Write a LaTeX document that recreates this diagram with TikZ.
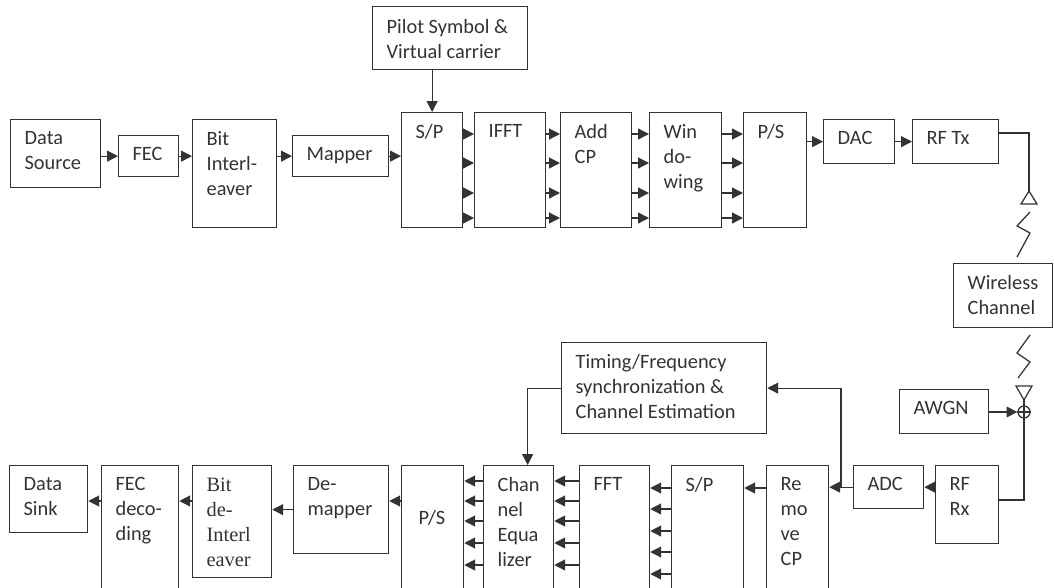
\documentclass[tikz,border=0pt]{standalone}
\usepackage{fontspec}
\setmainfont{Carlito}
\newfontfamily\timesfont{Liberation Serif}
\usetikzlibrary{arrows.meta,calc}
\newlength{\px}
\setlength{\px}{0.025cm}
% box text: top-left aligned, optional top gap
\newcommand{\bx}[4][12\px]{\parbox[c][#3][t]{#2}{\raggedright\leftskip=14\px\vspace*{#1}#4}}

\begin{document}
\begin{tikzpicture}[x=0.025cm, y=-0.025cm, >={Triangle[length=0.27cm,width=0.27cm]},
  font=\fontsize{14.5}{17.8}\selectfont, text=black!80,
  line width=0.9pt, draw=black!80,
  blk/.style={draw=black!80, line width=0.9pt, inner sep=0pt, anchor=north west}]
  \useasboundingbox (0,0) rectangle (1054,587);
  % transmitter
  \node[blk] (src)  at (10,119)  {\bx{90\px}{68\px}{Data\\Source}};
  \node[blk] (fec)  at (118,135) {\bx{60\px}{41\px}{FEC}};
  \node[blk] (bil)  at (192,119) {\bx{84\px}{108\px}{Bit\\Interl-\\eaver}};
  \node[blk] (map)  at (292,135) {\bx{96\px}{41\px}{Mapper}};
  \node[blk] (pil)  at (372,6)   {\bx[13\px]{155\px}{63\px}{Pilot Symbol \&\\Virtual carrier}};
  \node[blk] (sp)   at (401,112) {\bx{61\px}{115\px}{S/P}};
  \node[blk] (ifft) at (474,112) {\bx{71\px}{115\px}{IFFT}};
  \node[blk] (acp)  at (560,112) {\bx{71\px}{115\px}{Add\\CP}};
  \node[blk] (win)  at (649,112) {\bx{72\px}{115\px}{Win\\do-\\wing}};
  \node[blk] (ps)   at (743,112) {\bx{63\px}{115\px}{P/S}};
  \node[blk] (dac)  at (823,119) {\bx{71\px}{44\px}{DAC}};
  \node[blk] (rftx) at (912,119) {\bx{86\px}{44\px}{RF Tx}};
  % channel
  \node[blk] (wch)  at (953,263) {\bx{99\px}{64\px}{Wireless\\Channel}};
  \node[blk] (awgn) at (899,389) {\bx{89\px}{44\px}{AWGN}};
  \node[draw=black!80, circle, inner sep=0pt, minimum size=12\px] (sum) at (1024,412) {};
  % receiver
  \node[blk] (rfrx) at (935,465) {\bx{63\px}{78\px}{RF\\Rx}};
  \node[blk] (adc)  at (853,465) {\bx{70\px}{43\px}{ADC}};
  \node[blk] (tim)  at (561,342) {\bx{205\px}{91\px}{Timing/Frequency\\synchronization \&\\Channel Estimation}};
  \node[blk] (rcp)  at (766,465) {\bx{62\px}{125\px}{Re\\mo\\ve\\CP}};
  \node[blk] (sp2)  at (671,465) {\bx{72\px}{125\px}{S/P}};
  \node[blk] (fft)  at (579,465) {\bx{70\px}{125\px}{FFT}};
  \node[blk] (ceq)  at (483,465) {\bx{70\px}{125\px}{Chan\\nel\\Equa\\lizer}};
  \node[blk] (ps2)  at (401,465) {\bx[45\px]{62\px}{125\px}{\hspace*{3\px}P/S}};
  \node[blk] (dmap) at (293,465) {\bx{95\px}{88\px}{De-\\mapper}};
  \node[blk] (bdi)  at (192,465) {\bx{79\px}{112\px}{\timesfont Bit\\de-\\Interl\\eaver}};
  \node[blk] (fdec) at (101,465) {\bx{77\px}{125\px}{FEC\\deco-\\ding}};
  \node[blk] (sink) at (9,465)   {\bx{78\px}{67\px}{Data\\Sink}};

  % tx chain
  \draw[->] (src.east |- fec.west) -- (fec.west);
  \draw[->] (fec) -- (fec -| bil.west);
  \draw[->] (bil.east |- map.west) -- (map.west);
  \draw[->] (map.east) -- (map.east -| sp.west);
  \draw[->] (pil.south -| sp.north) -- (sp.north);
  \foreach \a/\b in {sp/ifft, ifft/acp, acp/win, win/ps}
    \foreach \y in {134,163,193,218}
      \draw[->] (\a.east |- 0,\y) -- (\b.west |- 0,\y);
  \draw[->] (ps.east |- dac.west) -- (dac.west);
  \draw[->] (dac) -- (rftx);

  % antennas and radio link
  \coordinate (txant) at (1029,191);
  \coordinate (rxant) at (1024,400);
  \draw (rftx.east |- 0,133) -| (txant);
  \draw (txant) -- ++(-8,13) -- ++(16,0) -- cycle;
  \draw (1030,212) -- (1017,226) -- (1030,233) -- (1017,257);
  \draw (1030,335) -- (1017,353) -- (1030,362) -- (1018,378);
  \draw (rxant) -- ++(-8,-14) -- ++(16,0) -- cycle;
  \draw (rxant) -- (sum.north) -- (sum.south);
  \draw (sum.west) -- (sum.east);
  \draw[->] (awgn.east |- sum.west) -- (sum.west);
  \draw (sum.south) |- (rfrx.east |- 0,500);

  % rx chain
  \draw[->] (rfrx.west |- adc.east) -- (adc.east);
  \draw[->] (adc.west) -- (adc.west -| rcp.east);
  \coordinate (br) at (adc.west -| 841,0);
  \draw[->] (br) |- (tim.east);
  \draw[->] (tim.west) -| ($(ceq.north)+(9,0)$);
  \draw[->] (rcp.west |- 0,488) -- (sp2.east |- 0,488);
  \foreach \y in {488,509,531,552,574}
    \draw[->] (sp2.west |- 0,\y) -- (fft.east |- 0,\y);
  \foreach \a/\b in {fft/ceq, ceq/ps2}
    \foreach \y in {481,501,521,543,565}
      \draw[->] (\a.west |- 0,\y) -- (\b.east |- 0,\y);
  \draw[->] (ps2.west |- 0,501) -- (dmap.east |- 0,501);
  \draw[->] (dmap.west) -- (dmap.west -| bdi.east);
  \draw[->] (bdi.west |- 0,501) -- (fdec.east |- 0,501);
  \draw[->] (fdec.west |- 0,501) -- (sink.east |- 0,501);
\end{tikzpicture}
\end{document}
